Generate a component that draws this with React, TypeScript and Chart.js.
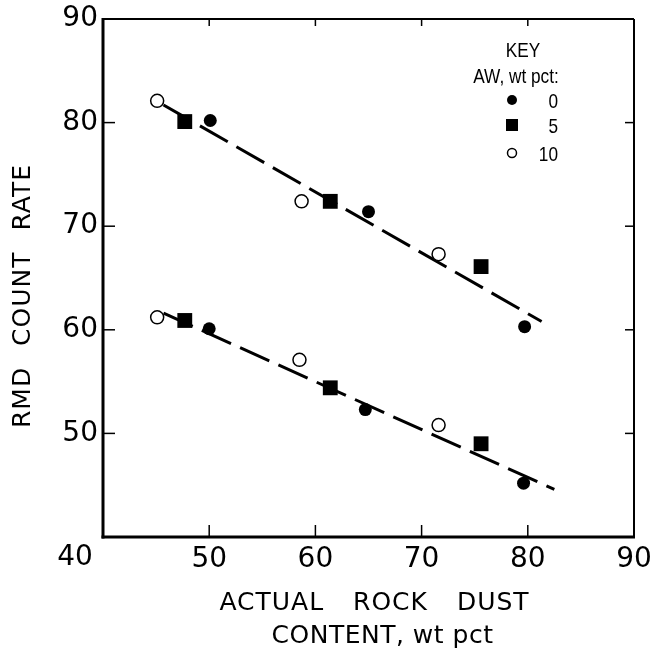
import React, { useEffect, useRef } from "react";
import { Chart, registerables } from "chart.js";

Chart.register(...registerables);

// ---- data ----
const xTicks = [40, 50, 60, 70, 80, 90];
const yTicks = [40, 50, 60, 70, 80, 90];

// AW 0 wt pct (filled circles)
const aw0X = [50.1, 65.0, 79.7, 50.0, 64.7, 79.6];
const aw0Y = [80.2, 71.4, 60.3, 60.1, 52.3, 45.2];
// AW 5 wt pct (filled squares)
const aw5X = [47.7, 61.4, 75.6, 47.7, 61.4, 75.6];
const aw5Y = [80.1, 72.4, 66.1, 60.9, 54.4, 49.0];
// AW 10 wt pct (open circles)
const aw10X = [45.1, 58.7, 71.6, 45.1, 58.5, 71.6];
const aw10Y = [82.1, 72.4, 67.3, 61.2, 57.1, 50.8];

// fitted lines
const upperFitX = [45.7, 81.3];
const upperFitY = [81.7, 60.8];
const lowerFitX = [45.7, 82.5];
const lowerFitY = [61.6, 44.6];

const keyLabels = ["0", "5", "10"];
const keyTitle = ["KEY", "AW, wt pct:"];
const xTitle = ["ACTUAL ROCK DUST", "CONTENT, wt pct"];
const yTitle = "RMD COUNT RATE";

const FONT = "'DejaVu Sans', 'Liberation Sans', sans-serif";
const KEYFONT = "'Liberation Sans', 'DejaVu Sans', sans-serif";

const pts = (xs: number[], ys: number[]) => xs.map((x, i) => ({ x, y: ys[i] }));

const decorPlugin = {
  id: "decor",
  afterDraw(chart: any) {
    const { ctx, chartArea: a, scales } = chart;
    const xs = scales.x;
    const ys = scales.y;
    ctx.save();
    ctx.strokeStyle = "#000";
    ctx.fillStyle = "#000";
    ctx.lineCap = "butt";

    const seg = (x1: number, y1: number, x2: number, y2: number) => {
      ctx.beginPath();
      ctx.moveTo(x1, y1);
      ctx.lineTo(x2, y2);
      ctx.stroke();
    };

    // frame
    ctx.lineWidth = 2;
    seg(a.left, a.top, a.right, a.top);
    seg(a.right, a.top, a.right, a.bottom);
    ctx.lineWidth = 3;
    seg(a.left, a.top - 1, a.left, a.bottom + 1.5);
    seg(a.left - 1.5, a.bottom, a.right + 1, a.bottom);

    // inward ticks
    ctx.lineWidth = 1.5;
    xTicks.slice(1, -1).forEach((v) => {
      const px = xs.getPixelForValue(v);
      seg(px, a.bottom, px, a.bottom - 12);
      seg(px, a.top, px, a.top + 7);
    });
    yTicks.slice(1, -1).forEach((v) => {
      const py = ys.getPixelForValue(v);
      seg(a.left, py, a.left + 12, py);
      seg(a.right, py, a.right - 9, py);
    });

    // corner "40" label
    ctx.font = `28px ${FONT}`;
    ctx.textAlign = "center";
    ctx.textBaseline = "middle";
    ctx.fillText(String(xTicks[0]), xs.getPixelForValue(xTicks[0]) - 28, a.bottom + 21);

    // x title
    const cx = (a.left + a.right) / 2;
    ctx.font = `25px ${FONT}`;
    (ctx as any).letterSpacing = "1px";
    (ctx as any).wordSpacing = "20px";
    ctx.fillText(xTitle[0], cx + 6, a.bottom + 66);
    (ctx as any).letterSpacing = "0.5px";
    (ctx as any).wordSpacing = "0px";
    ctx.fillText(xTitle[1], cx + 14, a.bottom + 99);

    // y title
    ctx.save();
    ctx.translate(23, (a.top + a.bottom) / 2 + 18);
    ctx.rotate(-Math.PI / 2);
    (ctx as any).letterSpacing = "1px";
    (ctx as any).wordSpacing = "12px";
    ctx.fillText(yTitle, 0, 0);
    ctx.restore();
    (ctx as any).letterSpacing = "0px";
    (ctx as any).wordSpacing = "0px";

    // key (condensed lettering)
    const narrowText = (t: string, x: number, y: number, align: string) => {
      ctx.save();
      ctx.translate(x, y);
      ctx.scale(0.82, 1);
      ctx.textAlign = align;
      ctx.fillText(t, 0, 0);
      ctx.restore();
    };
    const kx = a.right - 111;
    ctx.font = `21px ${KEYFONT}`;
    narrowText(keyTitle[0], kx, a.top + 32, "center");
    narrowText(keyTitle[1], kx - 7, a.top + 58, "center");
    const rowY = [a.top + 81, a.top + 106, a.top + 134];
    const mx = a.right - 122;
    // filled circle
    ctx.beginPath();
    ctx.arc(mx, rowY[0], 5, 0, Math.PI * 2);
    ctx.fill();
    // square
    ctx.fillRect(mx - 6, rowY[1] - 6, 12, 12);
    // open circle
    ctx.lineWidth = 1.5;
    ctx.beginPath();
    ctx.arc(mx, rowY[2], 4.5, 0, Math.PI * 2);
    ctx.stroke();
    keyLabels.forEach((t, i) => narrowText(t, a.right - 76, rowY[i] + 2, "right"));

    ctx.restore();
  },
};

export default function App() {
  const ref = useRef<HTMLCanvasElement | null>(null);

  useEffect(() => {
    if (!ref.current) return;
    const black = "#000";
    const chart = new Chart(ref.current, {
      type: "scatter",
      data: {
        datasets: [
          {
            label: keyLabels[0],
            data: pts(aw0X, aw0Y),
            pointStyle: "circle",
            pointRadius: 6.5,
            backgroundColor: black,
            borderColor: black,
            borderWidth: 0,
            order: 1,
          },
          {
            label: keyLabels[1],
            data: pts(aw5X, aw5Y),
            pointStyle: "rect",
            pointRadius: 10.5,
            backgroundColor: black,
            borderColor: black,
            borderWidth: 0,
            order: 1,
          },
          {
            label: keyLabels[2],
            data: pts(aw10X, aw10Y),
            pointStyle: "circle",
            pointRadius: 6.5,
            backgroundColor: "#fff",
            borderColor: black,
            borderWidth: 1.5,
            order: 1,
          },
          {
            label: "upper fit",
            data: pts(upperFitX, upperFitY),
            showLine: true,
            borderColor: black,
            borderWidth: 3,
            borderDash: [32, 10],
            pointRadius: 0,
            order: 2,
          },
          {
            label: "lower fit",
            data: pts(lowerFitX, lowerFitY),
            showLine: true,
            borderColor: black,
            borderWidth: 3,
            borderDash: [32, 10],
            pointRadius: 0,
            order: 2,
          },
        ],
      },
      options: {
        responsive: false,
        devicePixelRatio: 1,
        animation: false,
        events: [],
        layout: { padding: { left: 0, right: 21, top: 19, bottom: 0 } },
        plugins: {
          legend: { display: false },
          tooltip: { enabled: false },
        },
        scales: {
          x: {
            type: "linear",
            min: xTicks[0],
            max: xTicks[xTicks.length - 1],
            afterBuildTicks: (s: any) => {
              s.ticks = xTicks.map((v) => ({ value: v }));
            },
            afterFit: (s: any) => {
              s.height = 113;
              s.paddingLeft = 0;
              s.paddingRight = 0;
            },
            grid: { display: false, drawTicks: false },
            border: { display: false },
            ticks: {
              padding: 6,
              color: black,
              font: { family: FONT, size: 28 },
              maxRotation: 0,
              callback: (v: any) => (v === xTicks[0] ? "" : String(v)),
            },
          },
          y: {
            type: "linear",
            min: yTicks[0],
            max: yTicks[yTicks.length - 1],
            afterBuildTicks: (s: any) => {
              s.ticks = yTicks.map((v) => ({ value: v }));
            },
            afterFit: (s: any) => {
              s.width = 103;
              s.paddingTop = 0;
              s.paddingBottom = 0;
            },
            grid: { display: false, drawTicks: false },
            border: { display: false },
            ticks: {
              padding: 5,
              color: black,
              font: { family: FONT, size: 28 },
              callback: (v: any) => (v === yTicks[0] ? "" : String(v)),
            },
          },
        },
      },
      plugins: [decorPlugin],
    } as any);
    return () => chart.destroy();
  }, []);

  return (
    <div style={{ position: "fixed", left: 0, top: 0, width: 655, height: 650, background: "#fff" }}>
      <canvas ref={ref} width={655} height={650} style={{ display: "block" }} />
    </div>
  );
}
